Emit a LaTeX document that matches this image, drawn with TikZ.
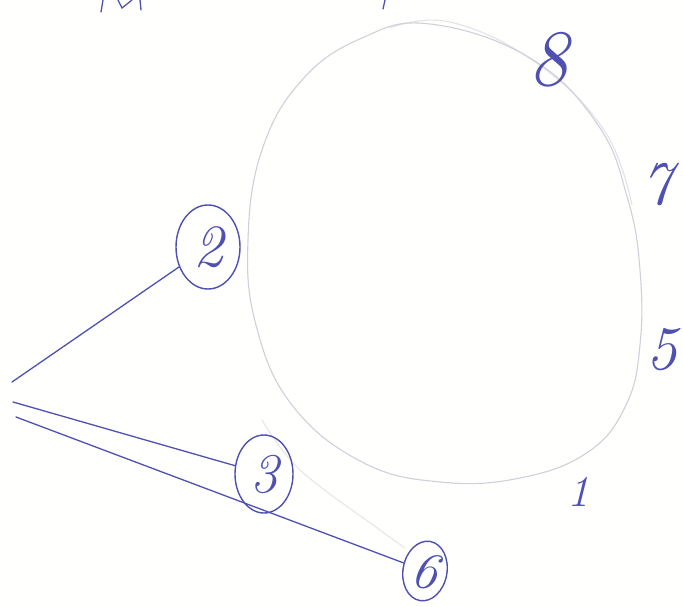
\documentclass[tikz,border=0pt]{standalone}
\usetikzlibrary{shapes.geometric}
\definecolor{ink}{RGB}{78,80,178}
\definecolor{pencil}{RGB}{208,208,218}
\definecolor{paper}{RGB}{255,255,253}
\tikzset{
  bubble/.style={ellipse, draw=ink, line width=1.4pt, inner sep=0pt, text=ink},
  digit/.style={text=ink, inner sep=0pt, font=\itshape\fontsize{#1}{#1}\selectfont},
  wire/.style={draw=ink, line width=1.3pt, line cap=round},
  sketch/.style={draw=pencil, line width=1.1pt},
}
\begin{document}
\begin{tikzpicture}[x=1pt,y=-1pt]
\fill[paper] (0,0) rectangle (683,607);
\useasboundingbox (0,0) rectangle (683,607);
% big pencil circle
\draw[sketch] plot[smooth cycle, tension=0.7] coordinates {(430,24) (530,58) (598,125) (628,200) (640,270) (640,345) (626,405) (588,452) (520,478) (440,482) (362,462) (292,405) (256,325) (248,240) (262,150) (302,80) (362,38)};
\draw[sketch, draw opacity=0.6] plot[smooth, tension=0.7] coordinates {(390,28) (450,22) (535,62) (604,130) (632,205)};
\draw[sketch, draw opacity=0.5] plot[smooth, tension=0.6] coordinates {(262,420) (300,470) (380,530) (405,548)};
% bubbles
\node[bubble, minimum width=64pt, minimum height=84pt, font=\itshape\fontsize{60}{60}\selectfont] (n2) at (208,247) {2};
\node[bubble, minimum width=58pt, minimum height=78pt, font=\itshape\fontsize{56}{56}\selectfont] (n3) at (264,474) {3};
\node[bubble, minimum width=44pt, minimum height=60pt, rotate=-10, font=\itshape\fontsize{52}{52}\selectfont] (n6) at (425,571) {6};
% free ends
\coordinate (a) at (12,382);
\coordinate (b) at (13,402);
\coordinate (c) at (16,417);
\draw[wire] (a) -- (n2);
\draw[wire] (b) -- (n3);
\draw[wire] (c) -- (n6);
% labels
\node[digit=80] (l8) at (548,60) {8};
\node[digit=62] (l7) at (657,185) {7};
\node[digit=62] (l5) at (662,350) {5};
\node[digit=44] (l1) at (578,492) {1};
% cut-off strokes at top
\draw[wire] (103,0) -- (101,12);
\draw[wire] (118,0) -- (122,8) -- (132,0);
\draw[wire] (140,0) -- (141,10);
\draw[wire] (385,0) -- (383,9);
\end{tikzpicture}
\end{document}
